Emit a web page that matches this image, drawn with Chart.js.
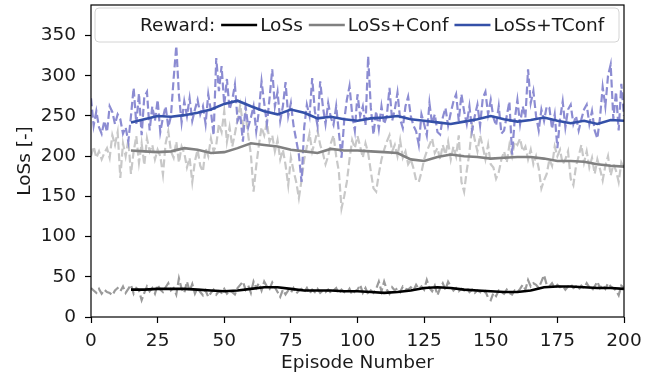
<!DOCTYPE html>
<html>
<head>
<meta charset="utf-8">
<script src="https://cdn.jsdelivr.net/npm/chart.js@4"></script>
<style>
  html, body { margin: 0; padding: 0; background: #fff; }
  #wrap { width: 664px; height: 376px; }
</style>
</head>
<body>
<div id="wrap"><canvas id="chart" width="664" height="376"></canvas></div>
<script>
// Per-episode loss for each reward variant (episodes 0..200)
const lossRaw = [
  36, 33, 30, 35, 29, 34, 31, 30, 27, 33,
  36, 32, 38, 30, 35, 40, 29, 36, 33, 21,
  30, 38, 32, 36, 29, 40, 34, 31, 37, 42,
  33, 36, 28, 48, 35, 30, 44, 32, 41, 29,
  36, 31, 27, 33, 25, 30, 34, 28, 32, 30,
  35, 29, 33, 31, 28, 36, 40, 44, 34, 39,
  30, 44, 36, 42, 33, 44, 38, 35, 43, 37,
  31, 25, 34, 28, 33, 30, 36, 29, 33, 35,
  31, 36, 29, 34, 31, 35, 30, 33, 31, 34,
  30, 33, 36, 29, 34, 31, 30, 35, 28, 32,
  34, 40, 30, 36, 28, 33, 30, 35, 44, 32,
  44, 34, 29, 37, 33, 36, 31, 38, 35, 34,
  37, 33, 40, 35, 38, 34, 46, 36, 32, 39,
  27, 36, 42, 34, 44, 38, 33, 36, 32, 35,
  33, 36, 31, 34, 30, 33, 31, 29, 32, 24,
  21, 30, 26, 33, 31, 29, 34, 30, 28, 33,
  31, 35, 40, 34, 46, 38, 42, 40, 36, 44,
  52, 40, 38, 42, 36, 40, 37, 39, 34, 38,
  41, 36, 38, 34, 39, 36, 42, 37, 33, 38,
  44, 36, 40, 35, 42, 38, 36, 33, 27, 39,
  36
];

const confRaw = [
  200, 212, 198, 206, 196, 204, 210, 198, 226, 214,
  230, 173, 216, 200, 220, 178, 206, 225, 192, 216,
  189, 222, 206, 214, 196, 208, 200, 177, 216, 231,
  206, 198, 218, 192, 212, 204, 186, 198, 168, 194,
  208, 188, 181, 210, 200, 222, 206, 214, 240, 230,
  256, 218, 236, 212, 228, 246, 264, 239, 252, 226,
  202, 156, 188, 214, 236, 226, 242, 218, 226, 206,
  220, 196, 208, 189, 164, 198, 182, 168, 148, 170,
  196, 212, 228, 206, 218, 232, 214, 204, 190, 200,
  216, 226, 200, 181, 135, 150, 168, 196, 220, 210,
  225, 212, 198, 216, 204, 181, 160, 156, 178, 196,
  208, 218, 226, 206, 214, 200, 220, 198, 206, 190,
  196, 185, 170, 168, 180, 196, 206, 214, 222, 204,
  210, 196, 214, 202, 218, 196, 212, 200, 226, 168,
  156, 182, 204, 239, 220, 206, 226, 212, 196, 214,
  190, 186, 172, 180, 196, 206, 192, 214, 200, 218,
  214, 222, 206, 212, 196, 208, 190, 200, 185, 160,
  170, 178, 196, 188, 212, 200, 208, 190, 196, 206,
  172, 164, 188, 200, 214, 192, 206, 186, 198, 178,
  196, 184, 170, 188, 200, 176, 190, 182, 168, 192,
  185
];

const tconfRaw = [
  272, 238, 256, 236, 228, 244, 230, 262, 255, 240,
  252, 246, 228, 236, 218, 250, 285, 240, 278, 226,
  274, 280, 232, 262, 244, 270, 230, 248, 262, 236,
  250, 296, 337, 276, 242, 268, 250, 272, 244, 258,
  270, 252, 262, 240, 277, 256, 226, 322, 281, 312,
  264, 296, 258, 270, 289, 244, 252, 218, 262, 236,
  248, 262, 231, 256, 293, 266, 240, 272, 308, 262,
  280, 244, 262, 292, 250, 266, 238, 220, 202, 168,
  236, 264, 250, 297, 256, 238, 293, 262, 240, 266,
  248, 239, 262, 230, 198, 244, 270, 287, 252, 232,
  277, 250, 262, 238, 324, 260, 227, 256, 234, 262,
  240, 250, 285, 244, 258, 279, 246, 235, 262, 274,
  250, 238, 231, 214, 252, 240, 226, 266, 240, 252,
  230, 227, 248, 260, 238, 254, 268, 277, 244, 277,
  256, 240, 262, 232, 250, 264, 238, 272, 280, 252,
  270, 248, 238, 262, 228, 232, 250, 268, 202, 246,
  270, 240, 262, 248, 308, 266, 281, 250, 232, 258,
  244, 262, 260, 234, 252, 210, 246, 268, 236, 258,
  264, 240, 250, 232, 246, 258, 264, 240, 256, 232,
  222, 248, 286, 262, 300, 314, 246, 280, 232, 290,
  250
];

// Smoothed (running mean) curves, sampled every 5 episodes
const smoothEpisodes = [
  15, 20, 25, 30, 35, 40, 45, 50, 55, 60,
  65, 70, 75, 80, 85, 90, 95, 100, 105, 110,
  115, 120, 125, 130, 135, 140, 145, 150, 155, 160,
  165, 170, 175, 180, 185, 190, 195, 200
];
const lossSmooth = [
  34, 34, 35, 35, 35, 34, 33, 32, 33, 35,
  37, 37, 35, 33, 33, 33, 32, 32, 31, 30,
  31, 33, 36, 37, 36, 34, 33, 32, 31, 31,
  33, 37, 38, 38, 37, 36, 36, 35
];
const confSmooth = [
  207, 206, 205, 206, 210, 208, 204, 205, 210, 216,
  214, 212, 208, 206, 204, 209, 207, 207, 206, 205,
  204, 196, 194, 199, 202, 200, 199, 197, 198, 199,
  199, 197, 194, 194, 193, 190, 188, 187
];
const tconfSmooth = [
  242, 246, 250, 249, 251, 254, 258, 265, 269, 262,
  256, 252, 258, 254, 247, 249, 246, 244, 247, 248,
  250, 246, 244, 242, 240, 243, 246, 250, 246, 243,
  245, 248, 244, 241, 244, 240, 245, 244
];

const xTicks = [0, 25, 50, 75, 100, 125, 150, 175, 200];
const yTicks = [0, 50, 100, 150, 200, 250, 300, 350];

const legendItems = [
  { label: "Reward:", color: null },
  { label: "LoSs", color: "#000000" },
  { label: "LoSs+Conf", color: "#808080" },
  { label: "LoSs+TConf", color: "#3450a8" },
];

const FONT = "DejaVu Sans";
const FONT_SIZE = 18.5;
const TEXT = "#1a1a1a";

const toPoints = (values) => values.map((v, i) => ({ x: i, y: v }));
const toSmooth = (values) => values.map((v, i) => ({ x: smoothEpisodes[i], y: v }));

function rawLine(values, color, order) {
  return {
    data: toPoints(values),
    borderColor: color,
    borderWidth: 2.2,
    borderDash: [8, 3.5],
    pointRadius: 0,
    tension: 0,
    order,
  };
}

function smoothLine(values, color) {
  return {
    data: toSmooth(values),
    borderColor: color,
    borderWidth: 2.6,
    pointRadius: 0,
    tension: 0,
    order: 0,
  };
}

// Box around the plot area (all four spines)
const frame = {
  id: "frame",
  afterDatasetsDraw(chart) {
    const { ctx, chartArea: a } = chart;
    ctx.save();
    ctx.strokeStyle = "#000";
    ctx.lineWidth = 1.2;
    ctx.strokeRect(a.left, a.top, a.right - a.left, a.bottom - a.top);
    ctx.restore();
  },
};

// Single-row legend spanning the top of the axes
const rewardLegend = {
  id: "rewardLegend",
  afterDraw(chart) {
    const { ctx, chartArea: a } = chart;
    const left = a.left + 4;
    const right = a.right - 5;
    const top = a.top + 3;
    const height = 34;
    const midY = top + height / 2;

    ctx.save();
    ctx.beginPath();
    ctx.roundRect(left, top, right - left, height, 4);
    ctx.fillStyle = "rgba(255,255,255,0.85)";
    ctx.fill();
    ctx.strokeStyle = "#d4d4d4";
    ctx.lineWidth = 1;
    ctx.stroke();

    ctx.font = `${FONT_SIZE}px "${FONT}"`;
    ctx.textBaseline = "middle";
    ctx.fillStyle = TEXT;

    const handleLen = 36;
    let x = left + 45;
    legendItems.forEach((item) => {
      if (item.color) {
        ctx.beginPath();
        ctx.strokeStyle = item.color;
        ctx.lineWidth = 2.5;
        ctx.moveTo(x, midY);
        ctx.lineTo(x + handleLen, midY);
        ctx.stroke();
        x += handleLen + 3;
      }
      ctx.fillText(item.label, x, midY + 1);
      x += ctx.measureText(item.label).width + 6;
    });
    ctx.restore();
  },
};

const tickFont = { family: FONT, size: FONT_SIZE };

new Chart(document.getElementById("chart"), {
  type: "line",
  data: {
    datasets: [
      smoothLine(lossSmooth, "#000000"),
      smoothLine(confSmooth, "#808080"),
      smoothLine(tconfSmooth, "#3450a8"),
      rawLine(tconfRaw, "#8c8cd2", 1),
      rawLine(confRaw, "#c8c8c8", 2),
      rawLine(lossRaw, "#9a9a9a", 3),
    ],
  },
  options: {
    responsive: false,
    animation: false,
    devicePixelRatio: 1,
    layout: { padding: { left: 0, right: 40, top: 5, bottom: 0 } },
    plugins: { legend: { display: false }, tooltip: { enabled: false } },
    scales: {
      x: {
        type: "linear",
        min: 0,
        max: 200,
        afterBuildTicks: (s) => { s.ticks = xTicks.map((v) => ({ value: v })); },
        afterFit: (s) => { s.height = 59; },
        grid: { drawOnChartArea: false, drawTicks: true, tickLength: 6, tickColor: "#000", tickWidth: 1.2 },
        border: { display: false },
        ticks: { color: TEXT, font: tickFont, padding: 7, maxRotation: 0 },
        title: { display: true, text: "Episode Number", color: TEXT, font: tickFont, padding: { top: 0, bottom: 2 } },
      },
      y: {
        type: "linear",
        min: 0,
        max: 388,
        afterBuildTicks: (s) => { s.ticks = yTicks.map((v) => ({ value: v })); },
        afterFit: (s) => {
          s.width = 91;
          s.paddingTop = 0;
          s.paddingBottom = 0;
        },
        grid: { drawOnChartArea: false, drawTicks: true, tickLength: 6, tickColor: "#000", tickWidth: 1.2 },
        border: { display: false },
        ticks: { color: TEXT, font: tickFont, padding: 9 },
        title: { display: true, text: "LoSs [-]", color: TEXT, font: tickFont, padding: { top: 14, bottom: 0 } },
      },
    },
  },
  plugins: [frame, rewardLegend],
});
</script>
</body>
</html>
